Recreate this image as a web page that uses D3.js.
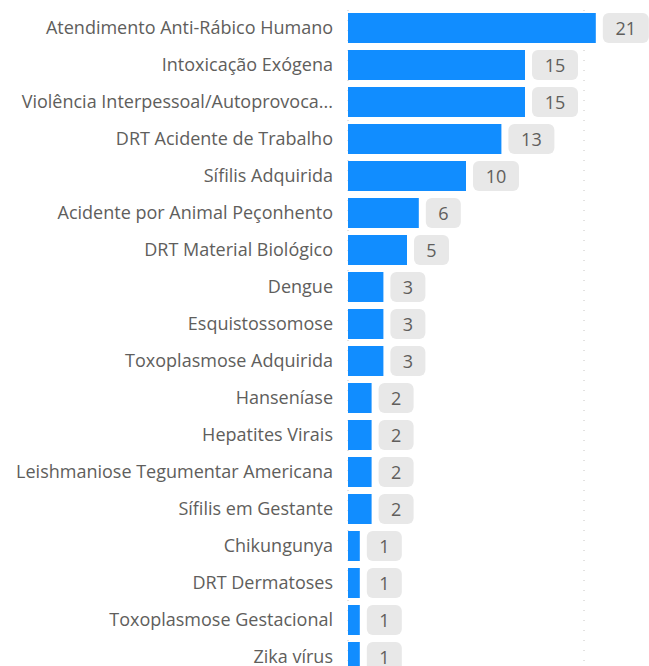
<!DOCTYPE html>
<html>
<head>
<meta charset="utf-8">
<script src="https://cdnjs.cloudflare.com/ajax/libs/d3/7.8.5/d3.min.js"></script>
<style>
  body { margin: 0; background: #ffffff; }
  svg { display: block; }
</style>
</head>
<body>
<svg id="chart" width="649" height="666"></svg>
<script>
// ------------------- data -------------------
const categories = [
    "Atendimento Anti-Rábico Humano",
    "Intoxicação Exógena",
    "Violência Interpessoal/Autoprovoca...",
    "DRT Acidente de Trabalho",
    "Sífilis Adquirida",
    "Acidente por Animal Peçonhento",
    "DRT Material Biológico",
    "Dengue",
    "Esquistossomose",
    "Toxoplasmose Adquirida",
    "Hanseníase",
    "Hepatites Virais",
    "Leishmaniose Tegumentar Americana",
    "Sífilis em Gestante",
    "Chikungunya",
    "DRT Dermatoses",
    "Toxoplasmose Gestacional",
    "Zika vírus"
];
const counts = [21, 15, 15, 13, 10, 6, 5, 3, 3, 3, 2, 2, 2, 2, 1, 1, 1, 1];
const gridTicks = [0, 20];

const svg = d3.select("#chart"),
    width = +svg.attr("width"),
    height = +svg.attr("height");

const data = categories.map((c, i) => ({ name: c, value: counts[i] }));

// Scales
const x = d3.scaleLinear()
    .domain([0, 20])
    .range([348, 584]);

const y = d3.scaleBand()
    .domain(categories)
    .range([13, 13 + 37 * categories.length - 7])
    .paddingInner(7 / 37)
    .paddingOuter(0);

// dotted gridlines
svg.append("g")
    .selectAll("line")
    .data(gridTicks)
    .join("line")
    .attr("x1", d => x(d))
    .attr("x2", d => x(d))
    .attr("y1", 10)
    .attr("y2", height)
    .attr("stroke", "#c8c6c4")
    .attr("stroke-width", 1)
    .attr("stroke-dasharray", "1,9");

// category labels
svg.append("g")
    .selectAll("text")
    .data(data)
    .join("text")
    .attr("x", 333)
    .attr("y", d => y(d.name) + y.bandwidth() / 2)
    .attr("dy", "0.35em")
    .attr("text-anchor", "end")
    .style("font-family", "'Open Sans', sans-serif")
    .style("font-size", "18px")
    .style("fill", "#605e5c")
    .text(d => d.name);

// bars
svg.append("g")
    .selectAll("rect")
    .data(data)
    .join("rect")
    .attr("x", x(0))
    .attr("y", d => y(d.name))
    .attr("width", d => x(d.value) - x(0))
    .attr("height", y.bandwidth())
    .attr("fill", "#118dff");

// data labels with grey background
const boxW = d => d.value >= 10 ? 46 : 35;

const labels = svg.append("g")
    .selectAll("g")
    .data(data)
    .join("g")
    .attr("transform", d => `translate(${x(d.value) + 7},${y(d.name)})`);

labels.append("rect")
    .attr("width", boxW)
    .attr("height", y.bandwidth())
    .attr("rx", 6)
    .attr("fill", "#e8e8e8");

labels.append("text")
    .attr("x", d => boxW(d) / 2)
    .attr("y", y.bandwidth() / 2)
    .attr("dy", "0.38em")
    .attr("text-anchor", "middle")
    .style("font-family", "'Open Sans', sans-serif")
    .style("font-size", "18px")
    .style("fill", "#605e5c")
    .text(d => d.value);
</script>
</body>
</html>
